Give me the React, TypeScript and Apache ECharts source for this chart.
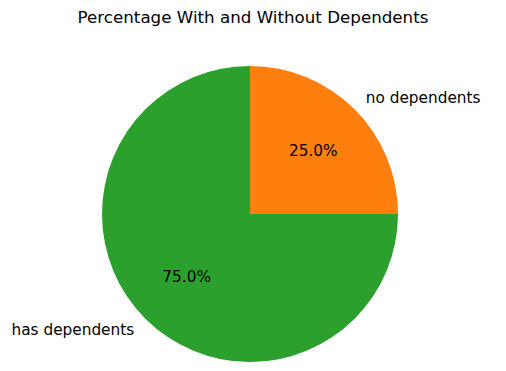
import React, { useEffect, useRef } from "react";
import * as echarts from "echarts";

const titleText = "Percentage With and Without Dependents";
const categories = ["has dependents", "no dependents"];
const values = [75, 25];
const colors = ["#2ca02c", "#ff7f0e"];

export default function App() {
  const ref = useRef<HTMLDivElement>(null);
  useEffect(() => {
    if (!ref.current) return;
    const chart = echarts.init(ref.current, null, { renderer: "svg" });
    const R = 148;
    const total = values.reduce((a, b) => a + b, 0);
    const data = categories.map((c, i) => ({
      name: c,
      value: values[i],
      itemStyle: { color: colors[i] },
    }));
    const font = "'DejaVu Sans', sans-serif";
    chart.setOption({
      animation: false,
      backgroundColor: "#ffffff",
      title: {
        text: titleText,
        left: "center",
        top: 8,
        padding: 0,
        textStyle: { fontFamily: font, fontSize: 16.7, fontWeight: "normal", color: "#000" },
      },
      series: [
        {
          type: "pie",
          center: [250, 214],
          radius: [0, R],
          startAngle: 90,
          clockwise: false,
          avoidLabelOverlap: false,
          silent: true,
          data,
          label: {
            show: true,
            position: "outside",
            formatter: "{b}",
            distanceToLabelLine: 0,
            fontFamily: font,
            fontSize: 15.3,
            color: "#000",
          },
          labelLine: { show: false, length: R * 0.1 + 1, length2: 0 },
          itemStyle: { borderWidth: 0 },
        },
        {
          type: "pie",
          center: [250, 214],
          radius: [0, R * 1.17],
          startAngle: 90,
          clockwise: false,
          avoidLabelOverlap: false,
          silent: true,
          data: data.map((d) => ({ ...d, itemStyle: { color: "rgba(0,0,0,0)" } })),
          label: {
            show: true,
            position: "inside",
            formatter: (p: any) => ((p.value / total) * 100).toFixed(1) + "%",
            fontFamily: font,
            fontSize: 15.3,
            color: "#000",
          },
          labelLine: { show: false },
          itemStyle: { borderWidth: 0 },
        },
      ],
    });
    return () => chart.dispose();
  }, []);
  return (
    <div
      ref={ref}
      style={{ position: "fixed", left: 0, top: 0, width: 506, height: 371 }}
    />
  );
}
